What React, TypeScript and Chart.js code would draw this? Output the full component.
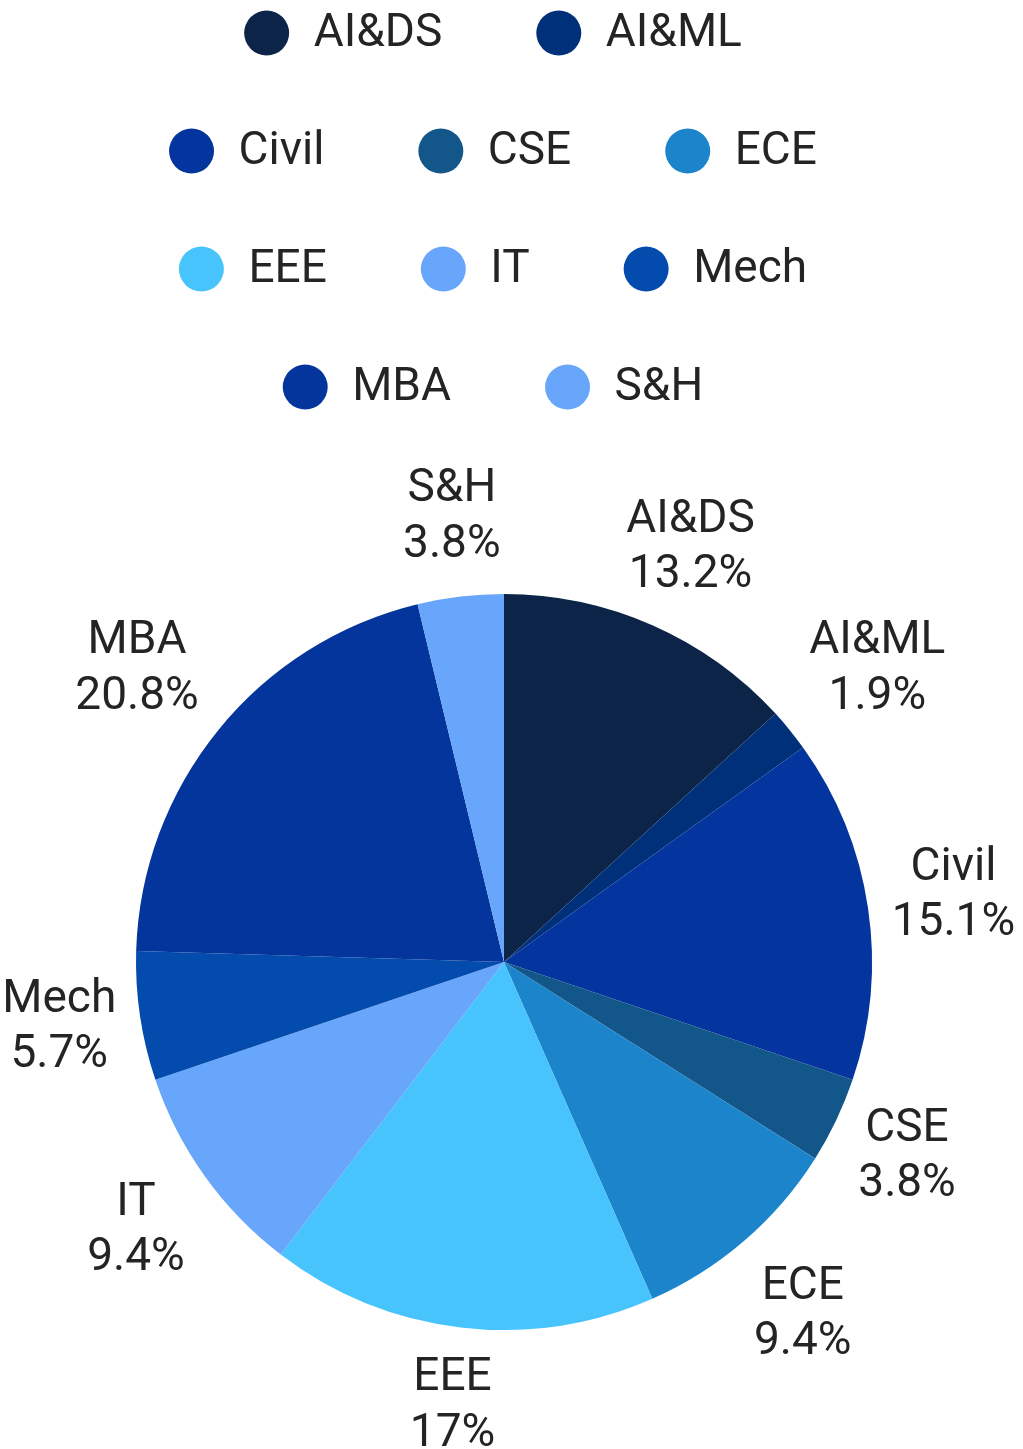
import React, { useEffect, useRef } from "react";
import { Chart, registerables } from "chart.js";

Chart.register(...registerables);

const categories = ["AI&DS", "AI&ML", "Civil", "CSE", "ECE", "EEE", "IT", "Mech", "MBA", "S&H"];
const counts = [7, 1, 8, 2, 5, 9, 5, 3, 11, 2];
const colors = [
  "#0b2447",
  "#01307b",
  "#04359e",
  "#13568a",
  "#1c84cb",
  "#48c4fd",
  "#67a6fa",
  "#034cae",
  "#04359c",
  "#67a6fa",
];

const FONT_FAMILY = "Roboto, sans-serif";
const FONT_SIZE = 46;
const TEXT_COLOR = "#242424";

const legendPlugin = {
  id: "customLegend",
  afterDraw(chart: any, _args: any, opts: any) {
    const ctx = chart.ctx;
    const labels: string[] = chart.data.labels;
    const bg: string[] = chart.data.datasets[0].backgroundColor;
    ctx.save();
    ctx.font = `${opts.fontSize}px ${opts.fontFamily}`;
    ctx.textBaseline = "middle";
    ctx.textAlign = "left";
    const items = labels.map((t, i) => ({
      text: t,
      color: bg[i],
      w: opts.radius * 2 + opts.textGap + ctx.measureText(t).width,
    }));
    const rows: any[][] = [];
    let cur: any[] = [];
    let curW = 0;
    items.forEach((it) => {
      const add = cur.length ? opts.itemGap + it.w : it.w;
      if (cur.length && curW + add > opts.maxRowWidth) {
        rows.push(cur);
        cur = [it];
        curW = it.w;
      } else {
        cur.push(it);
        curW += add;
      }
    });
    if (cur.length) rows.push(cur);
    rows.forEach((row, r) => {
      const total = row.reduce((s, it, k) => s + it.w + (k ? opts.itemGap : 0), 0);
      let x = opts.centerX - total / 2;
      const y = opts.firstRowY + r * opts.rowHeight;
      row.forEach((it) => {
        ctx.beginPath();
        ctx.fillStyle = it.color;
        ctx.arc(x + opts.radius, y, opts.radius, 0, Math.PI * 2);
        ctx.fill();
        ctx.fillStyle = opts.color;
        ctx.fillText(it.text, x + opts.radius * 2 + opts.textGap, y + 1);
        x += it.w + opts.itemGap;
      });
    });
    ctx.restore();
  },
};

const outsideLabels = {
  id: "outsideLabels",
  afterDatasetsDraw(chart: any, _args: any, opts: any) {
    const ctx = chart.ctx;
    const meta = chart.getDatasetMeta(0);
    const data: number[] = chart.data.datasets[0].data;
    const total = data.reduce((a, b) => a + b, 0);
    const lineH = opts.fontSize * 1.2;
    ctx.save();
    ctx.font = `${opts.fontSize}px ${opts.fontFamily}`;
    ctx.fillStyle = opts.color;
    ctx.textAlign = "center";
    ctx.textBaseline = "middle";
    meta.data.forEach((arc: any, i: number) => {
      const p = arc.getProps(["x", "y", "startAngle", "endAngle", "outerRadius"], true);
      const mid = (p.startAngle + p.endAngle) / 2;
      const vx = Math.cos(mid);
      const vy = Math.sin(mid);
      const pct = parseFloat(((data[i] / total) * 100).toFixed(1));
      const lines = [chart.data.labels[i], `${pct}%`];
      const w = Math.max(...lines.map((l: string) => ctx.measureText(l).width)) + opts.padding * 2;
      const h = lines.length * lineH + opts.padding * 2;
      const ax = p.x + vx * p.outerRadius;
      const ay = p.y + vy * p.outerRadius;
      const vs = 1 / Math.max(Math.abs(vx), Math.abs(vy));
      const cx = ax + (w / 2) * vx * vs + opts.offset * vx;
      const cy = ay + (h / 2) * vy * vs + opts.offset * vy;
      lines.forEach((l: string, k: number) => {
        ctx.fillText(l, cx, cy + (k - (lines.length - 1) / 2) * lineH);
      });
    });
    ctx.restore();
  },
};

export default function App() {
  const ref = useRef<HTMLCanvasElement | null>(null);
  useEffect(() => {
    if (!ref.current) return;
    const chart = new Chart(ref.current, {
      type: "pie",
      data: {
        labels: categories,
        datasets: [
          {
            data: counts,
            backgroundColor: colors,
            borderWidth: 0,
          },
        ],
      },
      options: {
        animation: false,
        responsive: true,
        maintainAspectRatio: false,
        layout: { padding: { top: 594, bottom: 119, left: 136, right: 151 } },
        plugins: {
          legend: { display: false },
          tooltip: { enabled: false },
          customLegend: {
            fontSize: FONT_SIZE,
            fontFamily: FONT_FAMILY,
            color: TEXT_COLOR,
            radius: 22.5,
            textGap: 24.5,
            itemGap: 94,
            rowHeight: 118,
            firstRowY: 33,
            centerX: 493,
            maxRowWidth: 700,
          },
          outsideLabels: {
            fontSize: FONT_SIZE,
            fontFamily: FONT_FAMILY,
            color: TEXT_COLOR,
            padding: 4,
            offset: 20,
          },
        } as any,
      },
      plugins: [legendPlugin, outsideLabels],
    });
    return () => chart.destroy();
  }, []);
  return (
    <div style={{ position: "absolute", left: 0, top: 0, width: 1023, height: 1449, background: "#fff" }}>
      <canvas ref={ref} />
    </div>
  );
}
